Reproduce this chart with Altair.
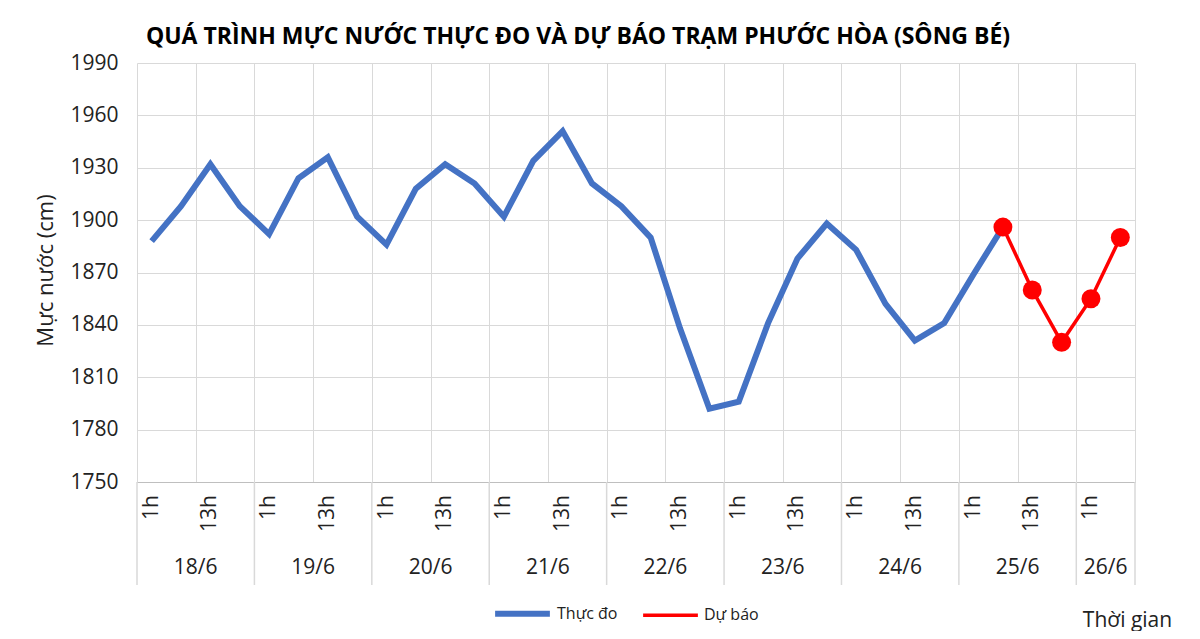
import altair as alt
import pandas as pd

FONT = "Open Sans"
TITLE = "QUÁ TRÌNH MỰC NƯỚC THỰC ĐO VÀ DỰ BÁO TRẠM PHƯỚC HÒA (SÔNG BÉ)"
SERIES = ["Thực đo", "Dự báo"]
COLORS = ["#4472C4", "#FF0000"]

days = ["18/6", "19/6", "20/6", "21/6", "22/6", "23/6", "24/6", "25/6", "26/6"]

obs_times = [
    "18/6 1h", "18/6 7h", "18/6 13h", "18/6 19h",
    "19/6 1h", "19/6 7h", "19/6 13h", "19/6 19h",
    "20/6 1h", "20/6 7h", "20/6 13h", "20/6 19h",
    "21/6 1h", "21/6 7h", "21/6 13h", "21/6 19h",
    "22/6 1h", "22/6 7h", "22/6 13h", "22/6 19h",
    "23/6 1h", "23/6 7h", "23/6 13h", "23/6 19h",
    "24/6 1h", "24/6 7h", "24/6 13h", "24/6 19h",
    "25/6 1h", "25/6 7h",
]
obs_values = [
    1888, 1908, 1932, 1908,
    1892, 1924, 1936, 1902,
    1886, 1918, 1932, 1921,
    1902, 1934, 1951, 1921,
    1908, 1890, 1838, 1792,
    1796, 1841, 1878, 1898,
    1883, 1852, 1831, 1841,
    1869, 1896,
]

fc_times = ["25/6 7h", "25/6 13h", "25/6 19h", "26/6 1h", "26/6 7h"]
fc_values = [1896, 1860, 1830, 1855, 1890]

y_ticks = [1750, 1780, 1810, 1840, 1870, 1900, 1930, 1960, 1990]
hour_labels = ["1h", "13h"]


def offset(t):
    d, h = t.split()
    return (int(d.split("/")[0]) - 18) * 24 + int(h[:-1])


X_MIN, X_MAX = -2, 202

df = pd.DataFrame(
    [{"series": SERIES[0], "t": offset(t), "v": v, "label": t} for t, v in zip(obs_times, obs_values)]
    + [{"series": SERIES[1], "t": offset(t), "v": v, "label": t} for t, v in zip(fc_times, fc_values)]
)

grid_vals = list(range(X_MIN, X_MAX + 1, 3))
bounds = [X_MIN + 24 * i for i in range(len(days))] + [X_MAX]
day_df = pd.DataFrame({
    "day": days,
    "c": [(bounds[i] + bounds[i + 1]) / 2 for i in range(len(days))],
})
bound_df = pd.DataFrame({"b": bounds})
hl = []
for i, d in enumerate(days):
    for h in hour_labels:
        t = offset(f"{d} {h}")
        if t < X_MAX:
            hl.append({"t": t, "txt": h})
hour_df = pd.DataFrame(hl)

xscale = alt.Scale(domain=[X_MIN, X_MAX], nice=False, zero=False)
yscale = alt.Scale(domain=[1750, 1990], nice=False, zero=False)

x_enc = alt.X(
    "t:Q", scale=xscale,
    axis=alt.Axis(values=grid_vals, grid=True, labels=False, ticks=False,
                  domain=True, domainColor="#BFBFBF", gridColor="#D9D9D9",
                  title="Thời gian", titleFont=FONT, titleFontSize=21,
                  titleFontWeight="normal", titleColor="#222222",
                  titleX=990, titleY=138, titleAlign="center", titleBaseline="middle"),
)
y_enc = alt.Y(
    "v:Q", scale=yscale,
    axis=alt.Axis(values=y_ticks, format="d", grid=True, gridColor="#D9D9D9", domain=False,
                  ticks=False, labelFont=FONT, labelFontSize=21, labelColor="#222222",
                  labelPadding=19, title="Mực nước (cm)", titleFont=FONT,
                  titleFontSize=22, titleFontWeight="normal", titleColor="#222222",
                  titleX=-92, titleY=207, titleAngle=270, titleAlign="center",
                  titleBaseline="middle"),
)

color = alt.Color(
    "series:N",
    scale=alt.Scale(domain=SERIES, range=COLORS),
    legend=alt.Legend(orient="none", legendX=355, legendY=520, direction="horizontal",
                      title=None, symbolType="stroke", symbolSize=3000,
                      symbolStrokeWidth=4, labelFont=FONT, labelFontSize=16,
                      labelColor="#222222", columnPadding=18, labelOffset=4),
)

lines = alt.Chart(df).mark_line().encode(
    x=x_enc, y=y_enc, color=color,
    strokeWidth=alt.StrokeWidth("series:N", scale=alt.Scale(domain=SERIES, range=[6, 3.5]), legend=None),
    detail="series:N",
)
points = alt.Chart(df[df.series == SERIES[1]]).mark_point(
    filled=True, size=360, opacity=1, color=COLORS[1]
).encode(x=alt.X("t:Q", scale=xscale), y=alt.Y("v:Q", scale=yscale))

dividers = alt.Chart(bound_df).mark_rule(color="#D9D9D9", strokeWidth=1.5).encode(
    x=alt.X("b:Q", scale=xscale), y=alt.value(419), y2=alt.value(522)
)
hour_text = alt.Chart(hour_df).mark_text(
    angle=270, align="right", baseline="middle", font=FONT, fontSize=21, color="#222222"
).encode(x=alt.X("t:Q", scale=xscale), y=alt.value(432), text="txt:N")
day_text = alt.Chart(day_df).mark_text(
    align="center", baseline="middle", font=FONT, fontSize=21, color="#222222"
).encode(x=alt.X("c:Q", scale=xscale), y=alt.value(505), text="day:N")

chart = alt.layer(dividers, lines, points, hour_text, day_text).properties(
    width=998, height=419,
    autosize=alt.AutoSizeParams(type="none"),
    padding={"left": 129, "top": 55, "right": 57, "bottom": 149},
    background="white",
    title=alt.TitleParams(text=TITLE, font=FONT, fontSize=23, fontWeight="bold",
                          color="black", anchor="middle", dx=-58, offset=3),
).configure_view(stroke=None)

chart.save("out.html", embed_options={"renderer": "svg", "actions": False})
